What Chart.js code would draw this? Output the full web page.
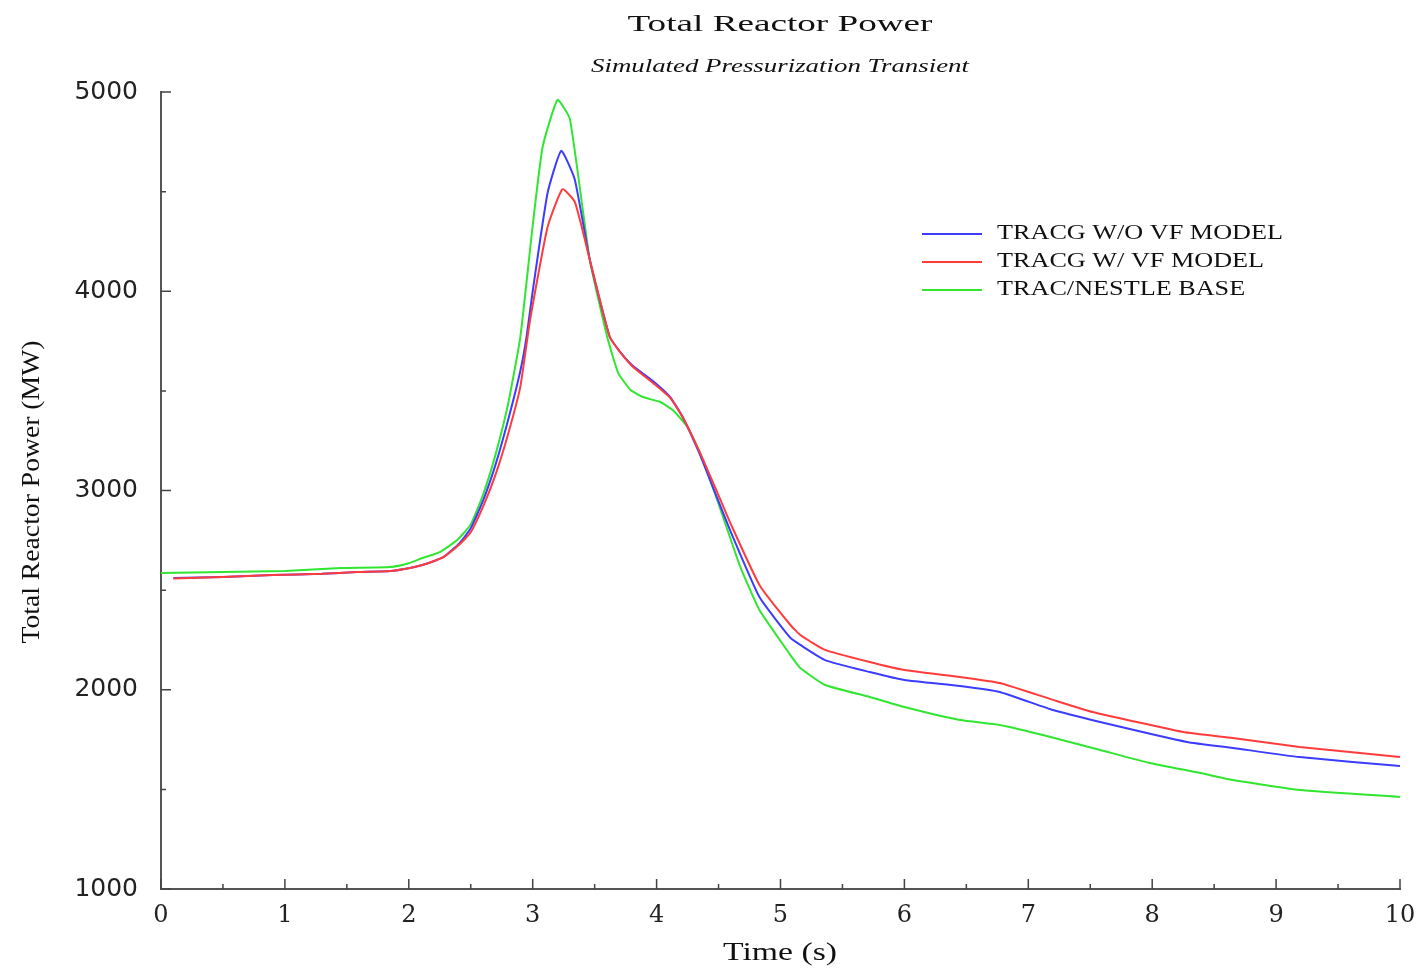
<!DOCTYPE html>
<html>
<head>
<meta charset="utf-8">
<title>Total Reactor Power</title>
<script src="https://cdn.jsdelivr.net/npm/chart.js@4.4.0/dist/chart.umd.min.js"></script>
<style>
  html, body { margin: 0; padding: 0; background: #fff; }
  #wrap { width: 1425px; height: 972px; }
</style>
</head>
<body>
<div id="wrap"><canvas id="powerChart" width="1425" height="972"></canvas></div>
<script>
// Values (time in s, power in MW)
const seriesNames = ['TRACG W/O VF MODEL', 'TRACG W/ VF MODEL', 'TRAC/NESTLE BASE'];
const seriesColors = ['#3c3cff', '#ff3c3c', '#30e630'];

const blueTime = [0.1, 0.5, 0.9, 1.3, 1.58, 1.85, 2.0, 2.11, 2.2, 2.28, 2.41, 2.5, 2.6, 2.7, 2.8, 2.9, 2.95, 3.0, 3.12, 3.23, 3.34, 3.46, 3.62, 3.7, 3.81, 3.97, 4.11, 4.21, 4.35, 4.49, 4.6, 4.83, 5.08, 5.16, 5.36, 5.72, 6.0, 6.45, 6.77, 7.2, 7.58, 8.28, 8.65, 9.19, 10.0];
const bluePower = [2561, 2566, 2576, 2582, 2591, 2596, 2610, 2626, 2645, 2666, 2736, 2810, 2950, 3130, 3350, 3600, 3770, 4000, 4493, 4705, 4560, 4160, 3774, 3700, 3625, 3550, 3469, 3369, 3180, 2960, 2790, 2465, 2260, 2225, 2149, 2089, 2049, 2019, 1989, 1898, 1838, 1738, 1708, 1662, 1617];

const redTime = [0.1, 0.5, 0.9, 1.3, 1.58, 1.85, 2.0, 2.11, 2.2, 2.28, 2.41, 2.5, 2.6, 2.7, 2.8, 2.9, 2.98, 3.12, 3.24, 3.34, 3.46, 3.62, 3.7, 3.81, 3.97, 4.11, 4.21, 4.35, 4.49, 4.6, 4.83, 5.08, 5.16, 5.36, 5.72, 6.0, 6.45, 6.77, 7.2, 7.52, 8.25, 8.65, 9.19, 10.0];
const redPower = [2558, 2566, 2576, 2582, 2591, 2596, 2610, 2626, 2645, 2666, 2730, 2790, 2920, 3080, 3280, 3520, 3860, 4322, 4512, 4448, 4160, 3774, 3700, 3620, 3540, 3465, 3369, 3190, 2990, 2830, 2526, 2325, 2275, 2200, 2139, 2099, 2064, 2034, 1949, 1888, 1788, 1758, 1713, 1662];

const greenTime = [0.0, 0.5, 1.0, 1.45, 1.85, 2.0, 2.11, 2.25, 2.39, 2.5, 2.6, 2.7, 2.8, 2.9, 3.0, 3.08, 3.2, 3.3, 3.46, 3.6, 3.69, 3.79, 3.89, 4.03, 4.13, 4.25, 4.35, 4.49, 4.67, 4.83, 5.08, 5.16, 5.36, 5.72, 6.0, 6.45, 6.77, 7.18, 7.58, 7.98, 8.39, 8.65, 9.19, 10.0];
const greenPower = [2586, 2591, 2596, 2611, 2616, 2635, 2661, 2691, 2751, 2830, 2980, 3180, 3430, 3770, 4330, 4724, 4960, 4865, 4160, 3774, 3590, 3504, 3469, 3444, 3404, 3319, 3188, 2952, 2626, 2400, 2174, 2109, 2024, 1964, 1913, 1848, 1823, 1763, 1698, 1632, 1582, 1547, 1497, 1462];

const xTickValues = [0, 1, 2, 3, 4, 5, 6, 7, 8, 9, 10];
const yTickValues = [1000, 2000, 3000, 4000, 5000];

function toPoints(times, values) {
    return times.map((t, i) => ({ x: t, y: values[i] }));
}

// draw text squeezed/stretched to a given width (the original art is stretched wide)
function drawWide(ctx, text, cx, cy, font, width) {
    ctx.save();
    ctx.font = font;
    const w = ctx.measureText(text).width;
    ctx.translate(cx, cy);
    ctx.scale(width / w, 1);
    ctx.textAlign = 'center';
    ctx.textBaseline = 'middle';
    ctx.fillText(text, 0, 0);
    ctx.restore();
}

const decorPlugin = {
    id: 'decor',
    afterDraw(chart) {
        const ctx = chart.ctx;
        const xs = chart.scales.x;
        const ys = chart.scales.y;
        const area = chart.chartArea;

        // inward tick marks, major and minor
        ctx.save();
        ctx.strokeStyle = '#444';
        ctx.lineWidth = 1.5;
        ctx.beginPath();
        for (let v = xs.min; v <= xs.max + 1e-9; v += 0.5) {
            const px = xs.getPixelForValue(v);
            const len = Number.isInteger(v) ? 10 : 5;
            ctx.moveTo(px, area.bottom);
            ctx.lineTo(px, area.bottom - len);
        }
        for (let v = ys.min; v <= ys.max + 1e-9; v += 500) {
            const py = ys.getPixelForValue(v);
            const len = v % 1000 === 0 ? 10 : 5;
            ctx.moveTo(area.left, py);
            ctx.lineTo(area.left + len, py);
        }
        ctx.stroke();
        ctx.restore();

        // titles
        ctx.save();
        ctx.fillStyle = '#111';
        drawWide(ctx, 'Total Reactor Power', 780, 25, '23px "Liberation Serif"', 305);
        drawWide(ctx, 'Simulated Pressurization Transient', 780, 67, 'italic 19px "Liberation Serif"', 378);
        drawWide(ctx, 'Time (s)', 780, 953, '26px "Liberation Serif"', 114);
        ctx.save();
        ctx.translate(32, 492);
        ctx.rotate(-Math.PI / 2);
        drawWide(ctx, 'Total Reactor Power (MW)', 0, 0, '26px "Liberation Serif"', 303);
        ctx.restore();

        // legend
        const rowY = [234, 262, 290];
        ctx.font = '20px "Liberation Serif"';
        const k = 286 / ctx.measureText(seriesNames[0]).width;
        seriesNames.forEach((name, i) => {
            ctx.strokeStyle = seriesColors[i];
            ctx.lineWidth = 2;
            ctx.beginPath();
            ctx.moveTo(922, rowY[i]);
            ctx.lineTo(982, rowY[i]);
            ctx.stroke();
            ctx.save();
            ctx.translate(997, rowY[i]);
            ctx.scale(k, 1);
            ctx.textAlign = 'left';
            ctx.textBaseline = 'middle';
            ctx.fillText(name, 0, 0);
            ctx.restore();
        });
        ctx.restore();
    }
};

const ctx = document.getElementById('powerChart');
new Chart(ctx, {
    type: 'line',
    data: {
        datasets: [
            { label: seriesNames[0], data: toPoints(blueTime, bluePower), borderColor: seriesColors[0], order: 1 },
            { label: seriesNames[1], data: toPoints(redTime, redPower), borderColor: seriesColors[1], order: 0 },
            { label: seriesNames[2], data: toPoints(greenTime, greenPower), borderColor: seriesColors[2], order: 2 }
        ]
    },
    options: {
        responsive: false,
        animation: false,
        devicePixelRatio: 1,
        layout: { padding: { left: 0, right: 25, top: 92, bottom: 0 } },
        elements: {
            line: { borderWidth: 2, tension: 0.15, fill: false },
            point: { radius: 0 }
        },
        plugins: {
            legend: { display: false },
            tooltip: { enabled: false },
            title: { display: false }
        },
        scales: {
            x: {
                type: 'linear',
                min: 0,
                max: 10,
                afterFit: s => { s.height = 83; s.paddingRight = 0; },
                afterBuildTicks: s => { s.ticks = xTickValues.map(v => ({ value: v })); },
                grid: { display: false, drawTicks: false },
                border: { display: true, color: '#555', width: 2 },
                ticks: {
                    padding: 12,
                    color: '#222',
                    maxRotation: 0,
                    font: { family: '"DejaVu Serif"', size: 24 }
                }
            },
            y: {
                type: 'linear',
                min: 1000,
                max: 5000,
                afterFit: s => { s.width = 161; },
                afterBuildTicks: s => { s.ticks = yTickValues.map(v => ({ value: v })); },
                grid: { display: false, drawTicks: false },
                border: { display: true, color: '#555', width: 2 },
                ticks: {
                    padding: 23,
                    color: '#222',
                    font: { family: '"DejaVu Sans"', size: 25 },
                    callback: v => String(v)
                }
            }
        }
    },
    plugins: [decorPlugin]
});
</script>
</body>
</html>
